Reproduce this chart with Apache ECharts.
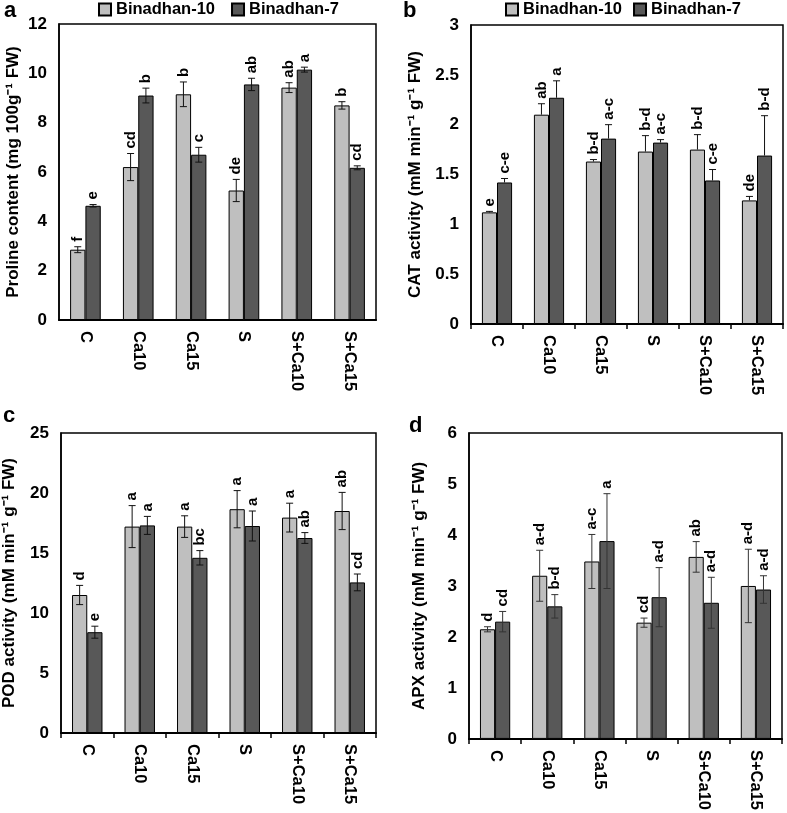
<!DOCTYPE html>
<html><head><meta charset="utf-8">
<script src="https://cdn.jsdelivr.net/npm/echarts@6/dist/echarts.min.js"></script>
<style>html,body{margin:0;padding:0;background:#fff}#c{width:787px;height:813px}</style>
</head><body><div id="c"></div>
<script>
const categories = ['C','Ca10','Ca15','S','S+Ca10','S+Ca15'];
const seriesNames = ['Binadhan-10','Binadhan-7'];

// a: Proline
const prolineB10 = [2.85, 6.2, 9.15, 5.25, 9.42, 8.7];
const prolineB10Err = [0.12, 0.55, 0.5, 0.45, 0.2, 0.15];
const prolineB7 = [4.63, 9.1, 6.7, 9.55, 10.15, 6.17];
const prolineB7Err = [0.05, 0.3, 0.3, 0.25, 0.1, 0.08];
const prolineB10Let = ['f','cd','b','de','ab','b'];
const prolineB7Let = ['e','b','c','ab','a','cd'];

// b: CAT
const catB10 = [1.12, 2.1, 1.63, 1.73, 1.75, 1.24];
const catB10Err = [0.01, 0.11, 0.02, 0.16, 0.15, 0.04];
const catB7 = [1.42, 2.27, 1.86, 1.82, 1.44, 1.69];
const catB7Err = [0.04, 0.17, 0.14, 0.03, 0.11, 0.4];
const catB10Let = ['e','ab','b-d','b-d','b-d','de'];
const catB7Let = ['c-e','a','a-c','a-c','c-e','b-d'];

// c: POD
const podB10 = [11.5, 17.2, 17.2, 18.65, 17.95, 18.5];
const podB10Err = [0.8, 1.75, 0.9, 1.55, 1.2, 1.55];
const podB7 = [8.4, 17.3, 14.6, 17.25, 16.25, 12.55];
const podB7Err = [0.5, 0.75, 0.6, 1.25, 0.45, 0.7];
const podB10Let = ['d','a','a','a','a','ab'];
const podB7Let = ['e','a','bc','a','ab','cd'];

// d: APX
const apxB10 = [2.15, 3.2, 3.48, 2.28, 3.57, 3.0];
const apxB10Err = [0.05, 0.5, 0.53, 0.09, 0.3, 0.72];
const apxB7 = [2.3, 2.6, 3.88, 2.78, 2.67, 2.93];
const apxB7Err = [0.2, 0.23, 0.93, 0.58, 0.5, 0.27];
const apxB10Let = ['d','a-d','a-c','cd','ab','a-d'];
const apxB7Let = ['cd','b-d','a','a-d','a-d','a-d'];

const FONT = 'Liberation Sans, Arial, sans-serif';
const LIGHT = '#bfbfbf', DARK = '#585858';
const BARW = 0.29;

const panels = [
  {grid:{left:59, top:24, right:411, bottom:493}, max:12, interval:2, ticks:false, oneSided:false,
   name:'Proline content (mg 100g\u207B\u00B9 FW)', gap:37,
   b10:prolineB10, b10e:prolineB10Err, b7:prolineB7, b7e:prolineB7Err, l10:prolineB10Let, l7:prolineB7Let, ec:'#111'},
  {grid:{left:471, top:25, right:4, bottom:489}, max:3, interval:0.5, ticks:true, oneSided:true,
   name:'CAT activity (mM min\u207B\u00B9 g\u207B\u00B9 FW)', gap:47,
   b10:catB10, b10e:catB10Err, b7:catB7, b7e:catB7Err, l10:catB10Let, l7:catB7Let, ec:'#111'},
  {grid:{left:59, top:433, right:411, bottom:80}, max:25, interval:5, ticks:true, oneSided:false,
   name:'POD activity (mM min\u207B\u00B9 g\u207B\u00B9 FW)', gap:43,
   b10:podB10, b10e:podB10Err, b7:podB7, b7e:podB7Err, l10:podB10Let, l7:podB7Let, ec:'#111'},
  {grid:{left:469, top:433, right:5, bottom:72}, max:6, interval:1, ticks:true, oneSided:false,
   name:'APX activity (mM min\u207B\u00B9 g\u207B\u00B9 FW)', gap:41,
   b10:apxB10, b10e:apxB10Err, b7:apxB7, b7e:apxB7Err, l10:apxB10Let, l7:apxB7Let, ec:'#333'}
];

const grids = [], xAxes = [], yAxes = [], series = [];
panels.forEach((p, gi) => {
  grids.push(Object.assign({show:true, borderColor:'#000', borderWidth:1.5, containLabel:false}, p.grid));
  xAxes.push({type:'category', gridIndex:gi, data:categories,
    axisLine:{lineStyle:{color:'#000', width:2}},
    axisTick:{show:p.ticks, length:5, lineStyle:{color:'#000', width:1.5}},
    axisLabel:{rotate:-90, color:'#000', fontSize:16.5, fontWeight:'bold', fontFamily:FONT, margin:11}});
  yAxes.push({type:'value', gridIndex:gi, min:0, max:p.max, interval:p.interval,
    name:p.name, nameLocation:'middle', nameRotate:90, nameGap:p.gap,
    nameTextStyle:{color:'#000', fontSize:17, fontWeight:'bold', fontFamily:FONT},
    axisLine:{show:true, lineStyle:{color:'#000', width:1.5}},
    axisTick:{show:false}, splitLine:{show:false},
    axisLabel:{color:'#000', fontSize:17, fontWeight:'bold', fontFamily:FONT, margin:12}});
  [[p.b10, LIGHT], [p.b7, DARK]].forEach((s, si) => {
    series.push({type:'bar', name:seriesNames[si], xAxisIndex:gi, yAxisIndex:gi,
      data:s[0], barWidth:(BARW*100)+'%', barGap:'0%',
      itemStyle:{color:s[1], borderColor:'#000', borderWidth:1}, z:2});
  });
  [[p.b10, p.b10e, p.l10, -1], [p.b7, p.b7e, p.l7, 1]].forEach((s) => {
    const vals = s[0], errs = s[1], lets = s[2], side = s[3];
    series.push({type:'custom', xAxisIndex:gi, yAxisIndex:gi, z:5, silent:true,
      data: vals.map((v, i) => [i, v, errs[i]]),
      encode:{x:0, y:1},
      renderItem: (params, api) => {
        const i = api.value(0), v = api.value(1), e = api.value(2);
        const band = api.size([1, 0])[0];
        const off = side * band * BARW / 2;
        const top = api.coord([i, v + e]);
        const bot = api.coord([i, p.oneSided ? v : v - e]);
        const x = top[0] + off;
        const cap = 3.5;
        const ls = {stroke:p.ec, lineWidth:1};
        const ch = [
          {type:'line', shape:{x1:x, y1:top[1], x2:x, y2:bot[1]}, style:ls},
          {type:'line', shape:{x1:x-cap, y1:top[1], x2:x+cap, y2:top[1]}, style:ls}
        ];
        if (!p.oneSided) ch.push({type:'line', shape:{x1:x-cap, y1:bot[1], x2:x+cap, y2:bot[1]}, style:ls});
        ch.push({type:'text', x:x, y:top[1] - 5, rotation:Math.PI/2,
          style:{text:lets[params.dataIndex], x:0, y:0, align:'left', verticalAlign:'middle',
            fill:'#000', font:'bold 15px ' + FONT}});
        return {type:'group', children:ch};
      }});
  });
});

const legendBase = {data:seriesNames, icon:'rect', itemWidth:12, itemHeight:12, padding:0,
  textStyle:{color:'#000', fontSize:16.5, fontWeight:'bold', fontFamily:FONT}, top:1};

const option = {
  animation:false,
  textStyle:{fontFamily:FONT},
  legend:[Object.assign({left:98, itemGap:16}, legendBase), Object.assign({left:505, itemGap:11}, legendBase)],
  grid:grids, xAxis:xAxes, yAxis:yAxes, series:series,
  graphic:[
    {type:'text', left:4, top:0, style:{text:'a', font:'bold 22px ' + FONT, fill:'#000'}},
    {type:'text', left:403, top:0, style:{text:'b', font:'bold 22px ' + FONT, fill:'#000'}},
    {type:'text', left:3, top:405, style:{text:'c', font:'bold 22px ' + FONT, fill:'#000'}},
    {type:'text', left:409, top:415, style:{text:'d', font:'bold 22px ' + FONT, fill:'#000'}}
  ]
};
const chart = echarts.init(document.getElementById('c'), null, {renderer:'canvas'});
chart.setOption(option);
</script></body></html>
